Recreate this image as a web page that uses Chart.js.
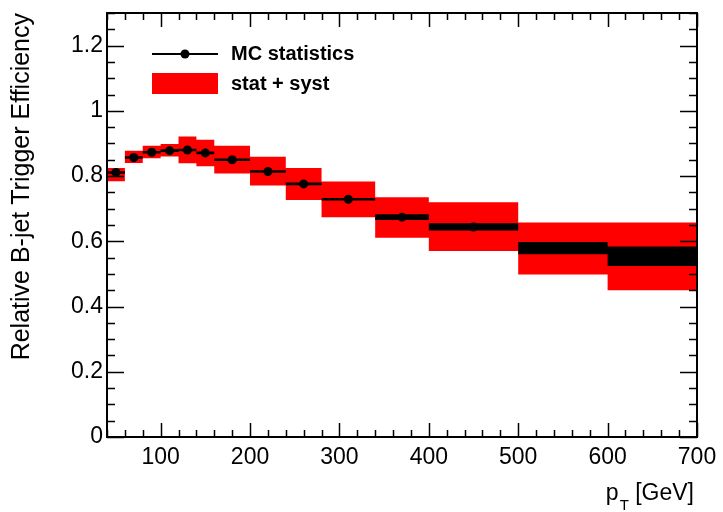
<!DOCTYPE html>
<html>
<head>
<meta charset="utf-8">
<script src="https://cdn.jsdelivr.net/npm/chart.js@4.4.0/dist/chart.umd.min.js"></script>
<style>
  html, body { margin: 0; padding: 0; background: #fff; }
  #wrap { width: 723px; height: 512px; }
</style>
</head>
<body>
<div id="wrap"><canvas id="chart"></canvas></div>
<script>
// bin edges in pT [GeV]
const binEdges = [40, 60, 80, 100, 120, 140, 160, 200, 240, 280, 340, 400, 500, 600, 700];
// relative efficiency per bin (MC)
const efficiency = [0.811, 0.857, 0.873, 0.878, 0.880, 0.871, 0.850, 0.814, 0.776, 0.729, 0.674, 0.644, 0.579, 0.554];
// MC statistical error per bin
const statErr = [0.004, 0.004, 0.004, 0.004, 0.004, 0.004, 0.004, 0.004, 0.004, 0.004, 0.009, 0.011, 0.019, 0.030];
// stat + syst band, upper and lower edge
const bandHigh = [0.825, 0.878, 0.893, 0.898, 0.921, 0.911, 0.893, 0.859, 0.825, 0.783, 0.735, 0.720, 0.658, 0.658];
const bandLow  = [0.784, 0.840, 0.855, 0.860, 0.839, 0.830, 0.808, 0.771, 0.727, 0.674, 0.611, 0.570, 0.498, 0.450];

const xTickLabels = [100, 200, 300, 400, 500, 600, 700];
const yTickLabels = [0, 0.2, 0.4, 0.6, 0.8, 1, 1.2];

const FONT = "'Liberation Sans', Arial, Helvetica, sans-serif";

// stepped line: one point per bin edge, last edge repeats last bin
function stepData(vals) {
    return binEdges.map((x, i) => ({ x: x, y: vals[Math.min(i, vals.length - 1)] }));
}

const centers = efficiency.map((v, i) => ({ x: (binEdges[i] + binEdges[i + 1]) / 2, y: v }));
const statHigh = efficiency.map((v, i) => v + statErr[i]);
const statLow = efficiency.map((v, i) => v - statErr[i]);

// frame, inward ticks, legend and x title (ROOT style)
const framePlugin = {
    id: 'frame',
    afterDatasetsDraw(chart) {
        const ctx = chart.ctx;
        const { left, right, top, bottom } = chart.chartArea;
        const xs = chart.scales.x, ys = chart.scales.y;
        ctx.save();
        ctx.strokeStyle = '#000';
        ctx.lineWidth = 1.5;
        ctx.beginPath();
        // x ticks every 20, major every 100
        for (let v = 40; v <= 700; v += 20) {
            const px = Math.round(xs.getPixelForValue(v)) + 0.5;
            const major = xTickLabels.includes(v);
            const len = major ? 14 : 7;
            ctx.moveTo(px, bottom); ctx.lineTo(px, bottom - len);
            ctx.moveTo(px, top); ctx.lineTo(px, top + len);
        }
        // y ticks every 0.05, major every 0.2
        for (let k = 0; k <= 26; k++) {
            const v = k * 0.05;
            const py = Math.round(ys.getPixelForValue(v)) + 0.5;
            const major = k % 4 === 0;
            const len = major ? 17 : 8;
            ctx.moveTo(left, py); ctx.lineTo(left + len, py);
            ctx.moveTo(right, py); ctx.lineTo(right - len, py);
        }
        ctx.stroke();
        ctx.lineWidth = 2;
        ctx.strokeRect(left, top, right - left, bottom - top);
        ctx.restore();
    },
    afterDraw(chart) {
        const ctx = chart.ctx;
        const { left, right, top, bottom } = chart.chartArea;
        ctx.save();
        // legend
        const lx = left + 45, ly = top + 41;
        ctx.strokeStyle = '#000';
        ctx.lineWidth = 2;
        ctx.beginPath();
        ctx.moveTo(lx, ly); ctx.lineTo(lx + 66, ly);
        ctx.stroke();
        ctx.fillStyle = '#000';
        ctx.beginPath();
        ctx.arc(lx + 33, ly, 4.5, 0, Math.PI * 2);
        ctx.fill();
        ctx.fillStyle = '#ff0000';
        ctx.fillRect(lx, ly + 19, 66, 21);
        ctx.fillStyle = '#000';
        ctx.font = 'bold 20px ' + FONT;
        ctx.textAlign = 'left';
        ctx.textBaseline = 'middle';
        ctx.fillText('MC statistics', lx + 79, ly);
        ctx.fillText('stat + syst', lx + 79, ly + 30);

        // x title p_T [GeV]
        ctx.textBaseline = 'alphabetic';
        ctx.textAlign = 'right';
        ctx.font = '23px ' + FONT;
        const gx = right - 3;
        ctx.fillText('[GeV]', gx, bottom + 63);
        const gw = ctx.measureText('[GeV] ').width;
        ctx.font = '15px ' + FONT;
        ctx.fillText('T', gx - gw, bottom + 73);
        const tw = ctx.measureText('T').width;
        ctx.font = '23px ' + FONT;
        ctx.fillText('p', gx - gw - tw - 1, bottom + 63);
        ctx.restore();
    }
};

new Chart(document.getElementById('chart'), {
    type: 'line',
    data: {
        datasets: [
            {
                label: 'MC statistics',
                data: centers,
                showLine: false,
                pointRadius: 4.5,
                pointBackgroundColor: '#000',
                pointBorderColor: '#000',
                pointBorderWidth: 0
            },
            {
                label: 'stat high',
                data: stepData(statHigh),
                stepped: 'before',
                borderWidth: 0,
                pointRadius: 0,
                backgroundColor: '#000',
                fill: '+1'
            },
            {
                label: 'stat low',
                data: stepData(statLow),
                stepped: 'before',
                borderWidth: 0,
                pointRadius: 0,
                fill: false
            },
            {
                label: 'stat + syst',
                data: stepData(bandHigh),
                stepped: 'before',
                borderWidth: 0,
                pointRadius: 0,
                backgroundColor: '#ff0000',
                fill: '+1'
            },
            {
                label: 'band low',
                data: stepData(bandLow),
                stepped: 'before',
                borderWidth: 0,
                pointRadius: 0,
                fill: false
            }
        ]
    },
    options: {
        responsive: true,
        maintainAspectRatio: false,
        animation: false,
        events: [],
        layout: { padding: { top: 13, right: 26, left: 0, bottom: 0 } },
        plugins: {
            legend: { display: false },
            tooltip: { enabled: false }
        },
        scales: {
            x: {
                type: 'linear',
                min: 40,
                max: 700,
                grid: { display: false, drawTicks: false, tickLength: 0 },
                border: { display: false },
                afterBuildTicks: s => { s.ticks = xTickLabels.map(v => ({ value: v })); },
                afterFit: s => { s.height = 75; s.paddingLeft = 0; s.paddingRight = 0; },
                ticks: {
                    padding: 7,
                    maxRotation: 0,
                    color: '#000',
                    font: { family: FONT, size: 23 },
                    callback: v => String(v)
                }
            },
            y: {
                min: 0,
                max: 1.3,
                grid: { display: false, drawTicks: false, tickLength: 0 },
                border: { display: false },
                afterBuildTicks: s => { s.ticks = yTickLabels.map(v => ({ value: v })); },
                afterFit: s => { s.width = 107; s.paddingTop = 0; s.paddingBottom = 0; },
                ticks: {
                    padding: 4,
                    color: '#000',
                    font: { family: FONT, size: 23 },
                    callback: v => String(Math.round(v * 10) / 10)
                },
                title: {
                    display: true,
                    text: 'Relative B-jet Trigger Efficiency',
                    align: 'end',
                    color: '#000',
                    font: { family: FONT, size: 25 },
                    padding: { top: 7, bottom: 0 }
                }
            }
        }
    },
    plugins: [framePlugin]
});
</script>
</body>
</html>
